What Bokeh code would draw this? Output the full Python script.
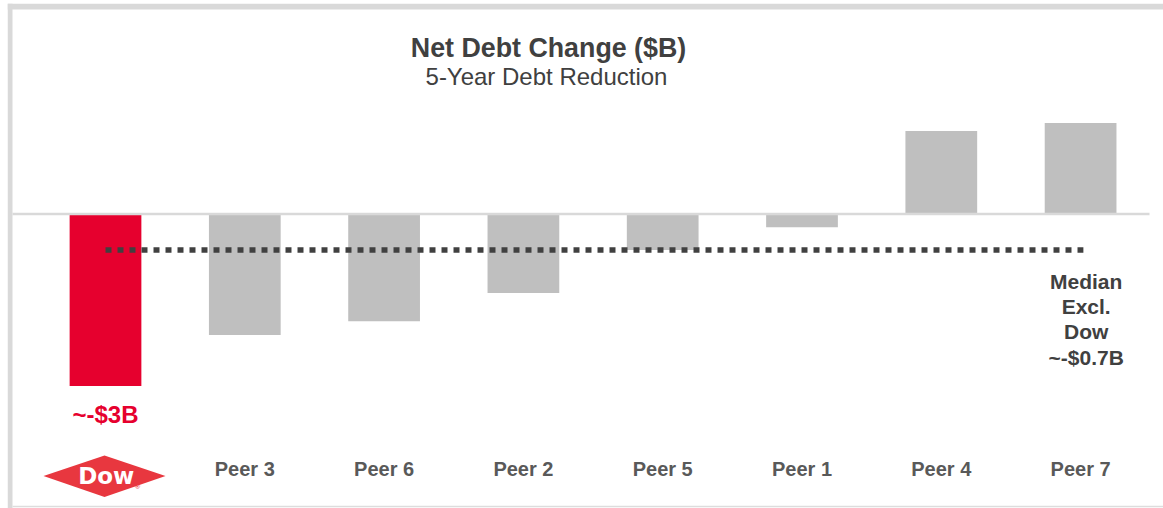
import numpy as np
from bokeh.plotting import figure
from bokeh.models import Range1d, ColumnDataSource
from bokeh.core.properties import value
from bokeh.embed import file_html
from bokeh.resources import INLINE

# ---------------- data ----------------
categories = ["Dow", "Peer 3", "Peer 6", "Peer 2", "Peer 5", "Peer 1", "Peer 4", "Peer 7"]
net_debt_change = [-3.0, -2.11, -1.87, -1.38, -0.63, -0.23, 1.45, 1.59]
bar_colors = ["#E6002E", "#BFBFBF", "#BFBFBF", "#BFBFBF", "#BFBFBF", "#BFBFBF", "#BFBFBF", "#BFBFBF"]
title_text = "Net Debt Change ($B)"
subtitle_text = "5-Year Debt Reduction"
dow_label = "~-$3B"
median_label = ["Median", "Excl.", "Dow", "~-$0.7B"]

peer_values = net_debt_change[1:]
median_excl_dow = float(np.median(peer_values))

# ---------------- layout helpers (page pixels -> data) ----------------
FIG_LEFT, FIG_TOP, W, H = 7, 3, 1156, 505
CX0, STEP = 105.0, 139.3      # pixel centre of first category, category spacing
ZERO_Y, UNIT = 213.5, 57.3    # pixel row of zero, pixels per $1B
TXT = 8.5                     # baseline correction for text glyphs


def X(px):
    return (px - CX0) / STEP


def Y(py):
    return (ZERO_Y - py) / UNIT


def YT(py):
    return Y(py - TXT)


FONT = value("Liberation Sans")

p = figure(width=W, height=H, output_backend="svg", toolbar_location=None,
           x_axis_type=None, y_axis_type=None,
           x_range=Range1d(X(FIG_LEFT), X(FIG_LEFT + W)),
           y_range=Range1d(Y(FIG_TOP + H), Y(FIG_TOP)),
           min_border=0, outline_line_color=None,
           background_fill_color="white", border_fill_color="white")
p.margin = (3, 0, 0, 7)
p.grid.visible = False

# frame decoration (light grey border)
p.quad(left=[X(7), X(7)], right=[X(1163), X(12)],
       top=[Y(3), Y(3)], bottom=[Y(9), Y(508)],
       fill_color="#D9D9D9", line_color=None)
p.segment(x0=[X(12)], y0=[Y(506)], x1=[X(1163)], y1=[Y(506)],
          line_color="#DDDDDD", line_width=1.5)

# bars
idx = list(range(len(categories)))
src = ColumnDataSource(dict(x=idx, top=net_debt_change, color=bar_colors))
p.vbar(x="x", top="top", bottom=0, width=0.515, fill_color="color",
       line_color=None, source=src)

# zero line
p.segment(x0=[X(12)], y0=[0], x1=[X(1149)], y1=[0],
          line_color="#D9D9D9", line_width=2.7)

# median dotted line
p.line(x=[idx[0], idx[-1] + 0.02], y=[median_excl_dow, median_excl_dow],
       line_color="#404040", line_width=5.5, line_dash="6 6", line_cap="butt")

# titles
p.text(x=[X(548)], y=[YT(55.5)], text=[title_text], text_font=FONT,
       text_font_style="bold", text_font_size="26.8px", text_color="#404040",
       text_align="center", text_baseline="alphabetic")
p.text(x=[X(546)], y=[YT(84)], text=[subtitle_text], text_font=FONT,
       text_font_size="24px", text_color="#404040",
       text_align="center", text_baseline="alphabetic")

# Dow value label (pixels below the bar end)
p.text(x=[idx[0]], y=[net_debt_change[0]], text=[dow_label], y_offset=[28.5],
       text_font=FONT, text_font_style="bold", text_font_size="24px",
       text_color="#E6002E", text_align="center", text_baseline="alphabetic")

# category labels (peers)
p.text(x=idx[1:], y=[YT(476.5)] * (len(categories) - 1), text=categories[1:],
       text_font=FONT, text_font_style="bold", text_font_size="20px",
       text_color="#595959", text_align="center", text_baseline="alphabetic")

# Dow logo (decoration in place of the Dow category label)
p.patch(x=[X(43), X(104), X(165), X(104)], y=[Y(475.5), Y(455), Y(475.5), Y(496.5)],
        fill_color="#E8373F", line_color=None)
p.text(x=[idx[0] + 0.005], y=[YT(483.5)], text=[categories[0]], text_font=value("DejaVu Sans"),
       text_font_style="bold", text_font_size="23px", text_color="white",
       text_align="center", text_baseline="alphabetic")
p.text(x=[X(137)], y=[YT(494)], text=["®"], text_font=FONT, text_font_size="7px",
       text_color="#E8373F", text_align="center", text_baseline="alphabetic")

# median label
p.text(x=[idx[-1] + 0.04] * len(median_label),
       y=[YT(289), YT(314.3), YT(339.6), YT(365)], text=median_label,
       text_font=FONT, text_font_style="bold", text_font_size="21px",
       text_color="#404040", text_align="center", text_baseline="alphabetic")

open("out.html", "w").write(file_html(p, INLINE))
